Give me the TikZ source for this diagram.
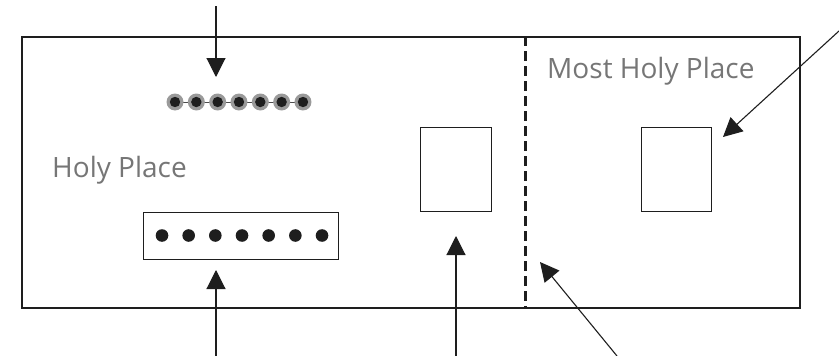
\documentclass[tikz,border=0pt]{standalone}
\usepackage{fontspec}
\setmainfont{Open Sans}
\usetikzlibrary{arrows.meta}
\definecolor{lbl}{HTML}{767676}
\definecolor{bead}{HTML}{9A9A9A}
\definecolor{ink}{HTML}{1E1E1E}
\begin{document}
\begin{tikzpicture}[x=1pt,y=-1pt,
  wall/.style={draw=ink,line width=2.4pt},
  furn/.style={draw=ink,line width=1.2pt,fill=white,inner sep=0pt},
  pointer/.style={draw=ink,line width=1.1pt,-{Triangle[length=19pt,width=19pt]}},
  label/.style={text=lbl,font=\fontsize{28}{33}\selectfont,inner sep=0pt,anchor=base west}]
\useasboundingbox (0,0) rectangle (839,356);
% outer walls
\node[wall,minimum width=778pt,minimum height=271pt,inner sep=0pt,anchor=north west] (tab) at (21,36) {};
% veil
\coordinate (veiltop) at (525,36);
\coordinate (veilbot) at (525,307);
\draw[draw=ink,line width=3pt,dash pattern=on 10pt off 5pt] (veiltop) -- (veilbot);
% labels
\node[label] (hp) at (52,177) {Holy Place};
\node[label] (mhp) at (547,78) {Most Holy Place};
% bead chain
\draw[draw=ink!80,line width=1pt] (175,102) -- (303,102);
\foreach \i in {0,...,6}{
  \fill[bead] ({175+21.33*\i},102) circle (8.5pt);
  \fill[ink] ({175+21.33*\i},102) circle (5.2pt);
}
% lampstand box
\node[furn,minimum width=195pt,minimum height=47pt,anchor=north west] (lamp) at (143,212) {};
\foreach \i in {0,...,6}{
  \fill[ink] ({162+26.67*\i},235.5) circle (6.3pt);
}
% altar and ark
\node[furn,minimum width=71pt,minimum height=84pt,anchor=north west] (altar) at (420,127) {};
\node[furn,minimum width=70pt,minimum height=84pt,anchor=north west] (ark) at (641,127) {};
% arrows
\coordinate (a1s) at (216,6);   \coordinate (a1e) at (216,77);
\coordinate (a2s) at (216,356); \coordinate (a2e) at (216,270);
\coordinate (a3s) at (456,356); \coordinate (a3e) at (456,236);
\coordinate (a4s) at (617,356); \coordinate (a4e) at (540,262);
\coordinate (a5s) at (839,31);  \coordinate (a5e) at (723,137);
\draw[pointer] (a1s) -- (a1e);
\draw[pointer] (a2s) -- (a2e);
\draw[pointer] (a3s) -- (a3e);
\draw[pointer] (a4s) -- (a4e);
\draw[pointer] (a5s) -- (a5e);
\end{tikzpicture}
\end{document}
